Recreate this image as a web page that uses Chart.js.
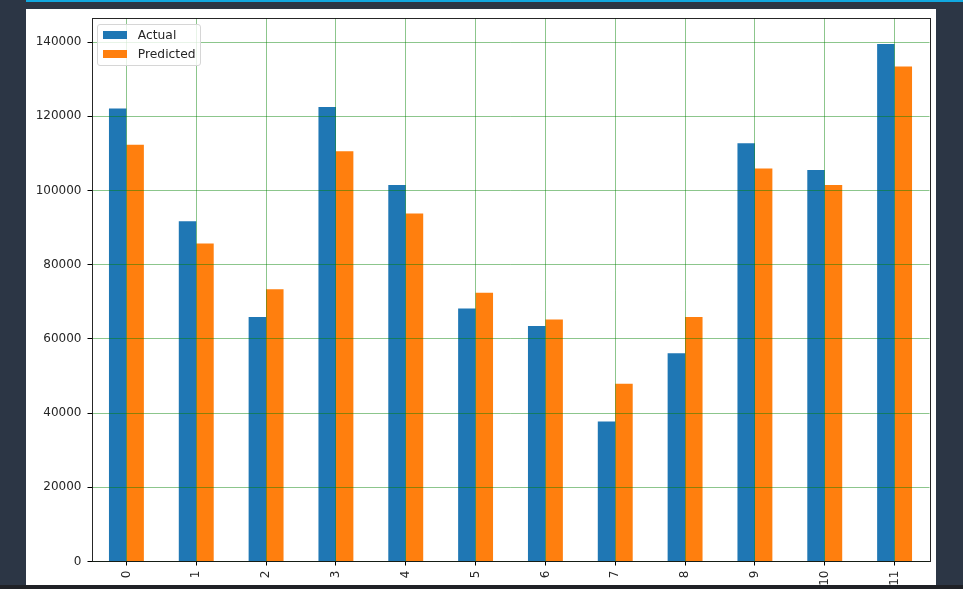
<!DOCTYPE html>
<html>
<head>
<meta charset="utf-8">
<script src="https://cdn.jsdelivr.net/npm/chart.js@4.4.1/dist/chart.umd.min.js"></script>
<style>
  html, body { margin: 0; padding: 0; }
  body { width: 963px; height: 589px; background: #2c3645; position: relative; overflow: hidden; font-family: "DejaVu Sans", sans-serif; }
  #topline { position: absolute; left: 26px; top: 0; width: 937px; height: 2px; background: #11a8e0; }
  #panel { position: absolute; left: 26px; top: 9px; width: 910px; height: 576px; background: #ffffff; }
  #wrap { position: absolute; left: 0; top: 0; width: 963px; height: 589px; }
  #bottom { position: absolute; left: 0; top: 585px; width: 963px; height: 4px; background: #1f2126; }
  #legend { position: absolute; box-sizing: border-box; background: rgba(255,255,255,0.8); border: 1px solid #d6d6d6; border-radius: 3px; padding: 0.5px 0 0 0; }
  #legend .item { display: flex; align-items: center; height: 18.7px; font: 12.3px "DejaVu Sans", sans-serif; color: #262626; white-space: nowrap; }
  #legend .sw { width: 24.5px; height: 8px; margin-left: 4.5px; margin-right: 10.5px; }
</style>
</head>
<body>
<div id="topline"></div>
<div id="panel"></div>
<div id="wrap"><canvas id="c" width="963" height="589"></canvas></div>
<div id="legend"></div>
<div id="bottom"></div>
<script>
const categories = ["0","1","2","3","4","5","6","7","8","9","10","11"];
const actualValues = [122100, 91700, 65900, 122500, 101500, 68200, 63500, 37700, 56100, 112700, 105500, 139460];
const predictedValues = [112300, 85700, 73400, 110600, 93800, 72400, 65200, 47900, 65900, 105900, 101500, 133400];
const yTicks = [0, 20000, 40000, 60000, 80000, 100000, 120000, 140000];
const seriesNames = ["Actual", "Predicted"];
const seriesColors = ["#1f77b4", "#ff7f0e"];

const gridColor = "rgba(0,128,0,0.45)";

const frame = {
  id: 'frame',
  afterDraw(chart) {
    const a = chart.chartArea, ctx = chart.ctx;
    ctx.save();
    ctx.strokeStyle = "rgba(0,0,0,0.85)";
    ctx.lineWidth = 1;
    ctx.strokeRect(Math.round(a.left) + 0.5, Math.round(a.top) + 0.5, Math.round(a.right - a.left), Math.round(a.bottom - a.top));
    ctx.restore();
  }
};

const htmlLegend = {
  id: 'htmlLegend',
  afterUpdate(chart) {
    const el = document.getElementById('legend');
    el.innerHTML = '';
    chart.data.datasets.forEach(ds => {
      const it = document.createElement('div');
      it.className = 'item';
      const sw = document.createElement('span');
      sw.className = 'sw';
      sw.style.background = ds.backgroundColor;
      const tx = document.createElement('span');
      tx.textContent = ds.label;
      it.appendChild(sw); it.appendChild(tx);
      el.appendChild(it);
    });
    const a = chart.chartArea;
    el.style.left = (a.left + 5.8) + 'px';
    el.style.top = (a.top + 5.7) + 'px';
    el.style.width = '104px';
    el.style.height = '41.5px';
  }
};

new Chart(document.getElementById('c'), {
  type: 'bar',
  data: {
    labels: categories,
    datasets: [
      { label: seriesNames[0], data: actualValues, backgroundColor: seriesColors[0], borderWidth: 0 },
      { label: seriesNames[1], data: predictedValues, backgroundColor: seriesColors[1], borderWidth: 0 }
    ]
  },
  options: {
    responsive: false,
    animation: false,
    devicePixelRatio: 1,
    layout: { padding: { left: 0, top: 18.3, right: 33.5, bottom: 0 } },
    datasets: { bar: { categoryPercentage: 0.5, barPercentage: 1.0 } },
    plugins: {
      legend: { display: false },
      tooltip: { enabled: false }
    },
    scales: {
      x: {
        type: 'category',
        offset: true,
        grid: { offset: false, color: gridColor, lineWidth: 1, z: 1, drawTicks: true, tickLength: 4, tickColor: '#000' },
        border: { display: false },
        ticks: {
          minRotation: 90, maxRotation: 90, autoSkip: false, padding: 5,
          color: '#262626', font: { family: 'DejaVu Sans', size: 12 }
        },
        afterFit(s) { s.height = 27.5; }
      },
      y: {
        type: 'linear',
        min: 0,
        max: 146400,
        afterBuildTicks(s) { s.ticks = yTicks.map(v => ({ value: v })); },
        grid: { color: gridColor, lineWidth: 1, z: 1, drawTicks: true, tickLength: 4, tickColor: '#000' },
        border: { display: false },
        ticks: {
          includeBounds: false,
          padding: 6,
          color: '#262626', font: { family: 'DejaVu Sans', size: 12 },
          callback: v => String(v)
        },
        afterFit(s) { s.width = 91.5; }
      }
    }
  },
  plugins: [frame, htmlLegend]
});
</script>
</body>
</html>
